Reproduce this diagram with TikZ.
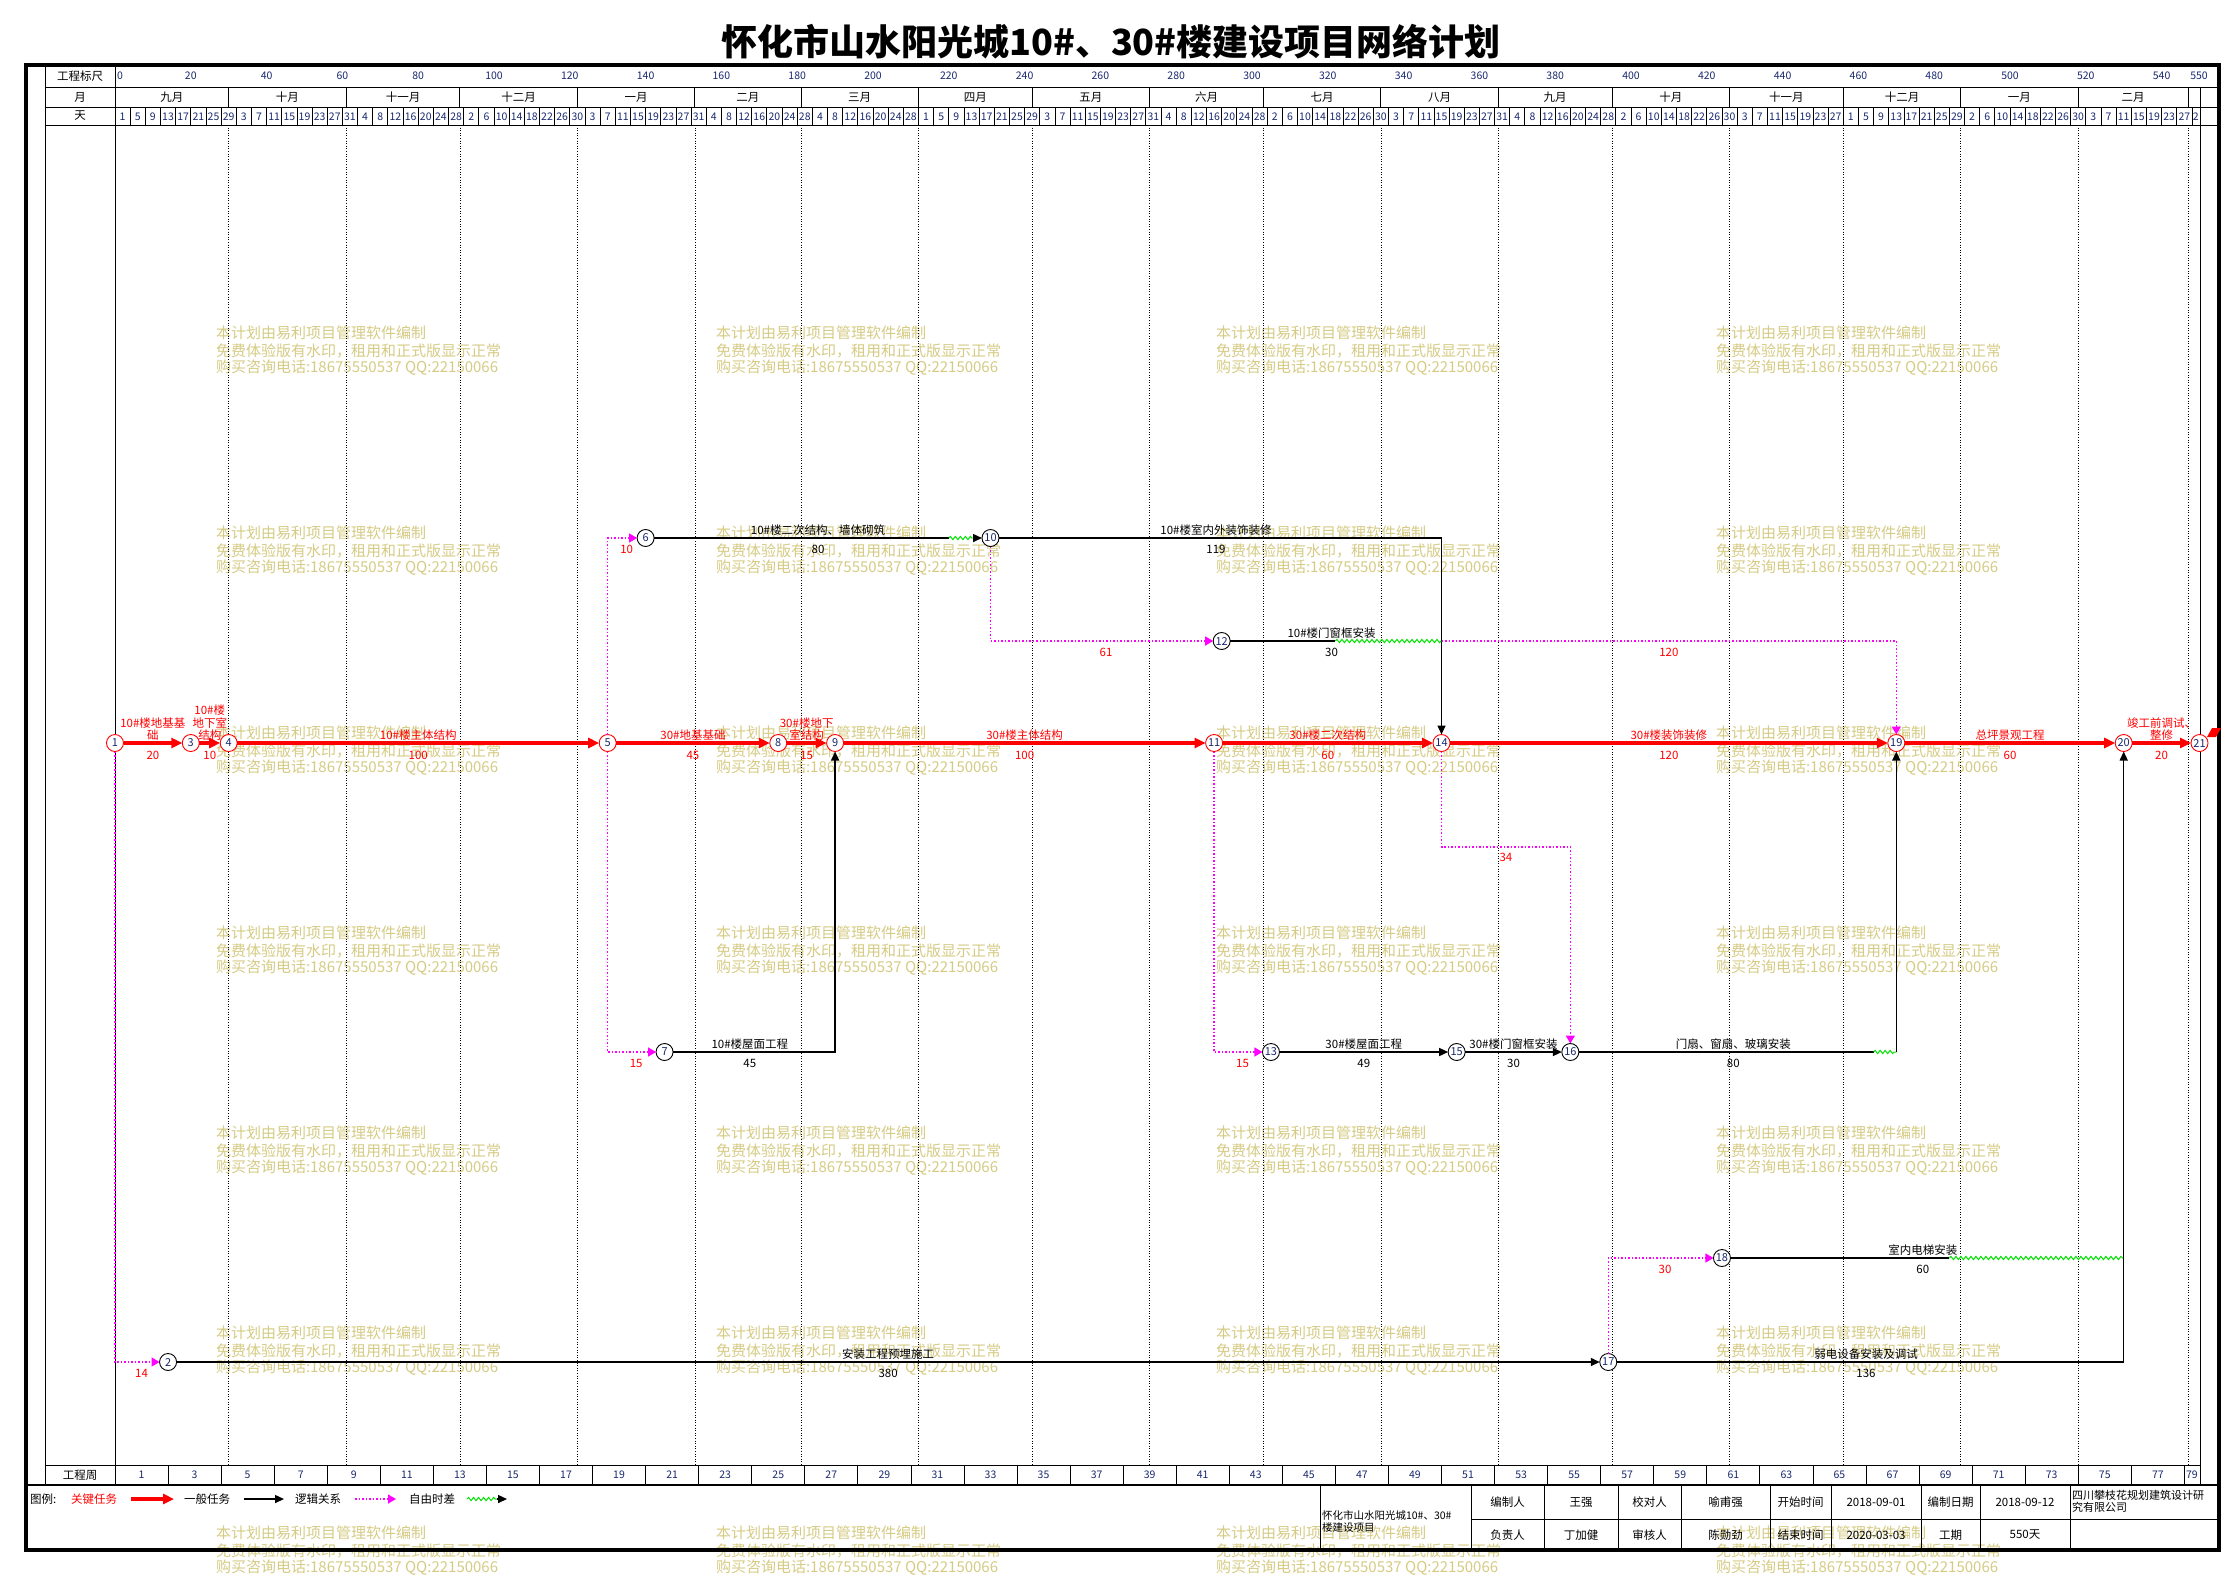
\documentclass[tikz,border=0pt]{standalone}
\usepackage{fontspec}
\usepackage{graphicx}
\setmainfont{Noto Sans CJK SC}
\usetikzlibrary{arrows.meta,decorations.pathmorphing,calc}
\definecolor{navy}{RGB}{25,40,110}
\definecolor{wmc}{RGB}{214,203,132}
\definecolor{mag}{RGB}{255,0,255}
\definecolor{grn}{RGB}{0,225,0}
\definecolor{crit}{RGB}{255,0,0}
\newcommand{\X}[1]{115+3.79*(#1)}
\begin{document}
\begin{tikzpicture}[x=1pt,y=-1pt,
  every node/.style={inner sep=0pt,outer sep=0pt},
  hd/.style={font=\fontsize{10.5}{12}\selectfont,text=navy},
  hdk/.style={font=\fontsize{11.5}{13}\selectfont},
  lr/.style={font=\fontsize{11.5}{12.5}\selectfont,text=crit,align=center},
  lb/.style={font=\fontsize{11.5}{12.5}\selectfont,align=center},
  wm/.style={font=\fontsize{15}{17}\selectfont,text=wmc,anchor=west},
  cn/.style={circle,draw=crit,line width=0.9pt,fill=white,minimum size=17pt,font=\fontsize{11}{12}\selectfont,text=navy},
  bn/.style={circle,draw=black,line width=0.9pt,fill=white,minimum size=17pt,font=\fontsize{11}{12}\selectfont,text=navy},
  critA/.style={draw=crit,line width=3.3pt,-{Triangle[length=11pt,width=10pt]}},
  blkA/.style={draw=black,line width=1.5pt,-{Triangle[length=9pt,width=8pt]}},
  blkL/.style={draw=black,line width=1.5pt},
  dotA/.style={draw=mag,line width=1.3pt,dash pattern=on 1.5pt off 2pt,-{Triangle[length=8pt,width=9pt]}},
  wave/.style={draw=grn,line width=1pt,decorate,decoration={snake,amplitude=1.6pt,segment length=5pt}},
  grid/.style={draw=black,line width=0.7pt,dash pattern=on 1pt off 1.6pt},
  thinl/.style={draw=black,line width=0.8pt}
]
\useasboundingbox (0,0) rectangle (2224,1577);
\fill[white] (0,0) rectangle (2224,1577);

% ---------- watermarks ----------
\foreach \cx in {216,716,1216,1716} {
  \foreach \cy in {333,533,733,933,1133,1333,1533} {
    \node[wm] (wma-\cx-\cy) at (\cx,\cy) {本计划由易利项目管理软件编制};
    \node[wm] (wmb-\cx-\cy) at (\cx,{\cy+17.5}) {免费体验版有水印，租用和正式版显示正常};
    \node[wm] (wmc-\cx-\cy) at (\cx,{\cy+35}) {购买咨询电话:18675550537 QQ:22150066};
  }
}

% ---------- title ----------
\node[font=\fontsize{36}{40}\selectfont\bfseries] (title) at (1111,42) {怀化市山水阳光城10\#、30\#楼建设项目网络计划};

% ---------- frame and header ----------
\draw[thinl] (45,65) -- (45,1485);
\draw[thinl] (115,65) -- (115,1485);
\draw[thinl] (2200,87) -- (2200,1485);
\draw[thinl] (45,87) -- (2219,87);
\draw[thinl] (45,107) -- (2219,107);
\draw[thinl] (45,125) -- (2219,125);
\draw[thinl] (45,1465) -- (2200,1465);
\node[hdk] (hscale) at (80,76) {工程标尺};
\node[hdk] (hmonth) at (80,97) {月};
\node[hdk] (hday) at (80,116) {天};
\node[hdk] (hweek) at (80,1475) {工程周};

% scale numbers
\node[hd,anchor=west] (s0) at (117,76) {0};
\foreach \v in {20,40,...,540} { \node[hd] (s\v) at ({\X{\v}},76) {\v}; }
\node[hd] (s550) at (2199,76) {550};

% months
\foreach \a/\b/\m in {0/30/九月,30/61/十月,61/91/十一月,91/122/十二月,122/153/一月,153/181/二月,181/212/三月,212/242/四月,242/273/五月,273/303/六月,303/334/七月,334/365/八月,365/395/九月,395/426/十月,426/456/十一月,456/487/十二月,487/518/一月,518/547/二月} {
  \node[hdk] (m\a) at ({\X{(\a+\b)/2}},97) {\m};
  \draw[thinl] ({\X{\b}},87) -- ({\X{\b}},107);
  \draw[grid] ({\X{\b}},125) -- ({\X{\b}},1465);
}

% days
\foreach \d [count=\k from 0] in {1,5,9,13,17,21,25,29,3,7,11,15,19,23,27,31,4,8,12,16,20,24,28,2,6,10,14,18,22,26,30,3,7,11,15,19,23,27,31,4,8,12,16,20,24,28,4,8,12,16,20,24,28,1,5,9,13,17,21,25,29,3,7,11,15,19,23,27,31,4,8,12,16,20,24,28,2,6,10,14,18,22,26,30,3,7,11,15,19,23,27,31,4,8,12,16,20,24,28,2,6,10,14,18,22,26,30,3,7,11,15,19,23,27,1,5,9,13,17,21,25,29,2,6,10,14,18,22,26,30,3,7,11,15,19,23,27,2} {
  \node[hd] (d\k) at ({\X{min(4*\k+2,549)}},116.5) {\d};
}
\foreach \k in {1,...,137} { \draw[thinl] ({\X{4*\k}},107) -- ({\X{4*\k}},125); }

% weeks
\foreach \k in {0,...,39} {
  \pgfmathtruncatemacro{\w}{2*\k+1}
  \node[hd] (w\k) at ({\X{min(14*\k+7,548)}},1475) {\w};
}
\foreach \k in {1,...,39} { \draw[thinl] ({\X{14*\k}},1465) -- ({\X{14*\k}},1485); }

% outer frame
\draw[black,line width=2.6pt] (26,1485) -- (2219,1485);
\draw[black,line width=4pt] (26,65) rectangle (2219,1550);

% ---------- nodes ----------
\node[cn] (n1) at ({\X{0}},743) {1};
\node[cn] (n3) at ({\X{20}},743) {3};
\node[cn] (n4) at ({\X{30}},743) {4};
\node[cn] (n5) at ({\X{130}},743) {5};
\node[cn] (n8) at ({\X{175}},743) {8};
\node[cn] (n9) at ({\X{190}},743) {9};
\node[cn] (n11) at ({\X{290}},743) {11};
\node[cn] (n14) at ({\X{350}},743) {14};
\node[cn] (n19) at ({\X{470}},743) {19};
\node[cn] (n20) at ({\X{530}},743) {20};
\node[cn] (n21) at ({\X{550}},743) {21};
\node[bn] (n6) at ({\X{140}},538) {6};
\node[bn] (n10) at ({\X{231}},538) {10};
\node[bn] (n12) at ({\X{292}},641) {12};
\node[bn] (n7) at ({\X{145}},1052) {7};
\node[bn] (n13) at ({\X{305}},1052) {13};
\node[bn] (n15) at ({\X{354}},1052) {15};
\node[bn] (n16) at ({\X{384}},1052) {16};
\node[bn] (n18) at ({\X{424}},1258) {18};
\node[bn] (n2) at ({\X{14}},1362) {2};
\node[bn] (n17) at ({\X{394}},1362) {17};

% bend / free-end coordinates
\coordinate (e6) at ({\X{220}},538);
\coordinate (a10) at ({\X{231}-18},538);
\coordinate (e12) at ({\X{322}},641);
\coordinate (w12) at ({\X{350}},641);
\coordinate (b14) at ({\X{350}},847);
\coordinate (e16) at ({\X{464}},1052);
\coordinate (w16) at ({\X{470}},1052);
\coordinate (e18) at ({\X{484}},1258);
\coordinate (w18) at ({\X{530}},1258);

% ---------- connectors ----------
\draw[critA] (n1) -- (n3);
\draw[critA] (n3) -- (n4);
\draw[critA] (n4) -- (n5);
\draw[critA] (n5) -- (n8);
\draw[critA] (n8) -- (n9);
\draw[critA] (n9) -- (n11);
\draw[critA] (n11) -- (n14);
\draw[critA] (n14) -- (n19);
\draw[critA] (n19) -- (n20);
\draw[critA] (n20) -- (n21);

\draw[blkL] (n6) -- (e6);
\draw[wave] (e6) -- (a10);
\draw[blkA] (a10) -- (n10);
\draw[blkA] (n10) -| (n14);
\draw[dotA] (n10) |- (n12);
\draw[blkL] (n12) -- (e12);
\draw[wave] (e12) -- (w12);
\draw[dotA] (w12) -| (n19);
\draw[dotA] (n14) -- (b14) -| (n16);
\draw[dotA] (n5) |- (n6);
\draw[dotA] (n5) |- (n7);
\draw[blkA] (n7) -| (n9);
\draw[dotA] (n11) |- (n13);
\draw[blkA] (n13) -- (n15);
\draw[blkA] (n15) -- (n16);
\draw[blkL] (n16) -- (e16);
\draw[wave] (e16) -- (w16);
\draw[blkA] (w16) -- (n19);
\draw[dotA] (n1) |- (n2);
\draw[blkA] (n2) -- (n17);
\draw[dotA] (n17) |- (n18);
\draw[blkL] (n18) -- (e18);
\draw[wave] (e18) -- (w18);
\draw[blkA] (n17) -| (n20);

% flag at end node
\fill[crit] (2207,737) -- (2212,728) -- (2221,728) -- (2216,737) -- cycle;

% ---------- critical labels ----------
\node[lr] (t13) at ({\X{10}},729) {10\#楼地基基\\础};
\node[lr] (t34) at ({\X{25}},723) {10\#楼\\地下室\\结构};
\node[lr] (t45) at ({\X{80}},735) {10\#楼主体结构};
\node[lr] (t58) at ({\X{152.5}},735) {30\#地基基础};
\node[lr] (t89) at ({\X{182.5}},729) {30\#楼地下\\室结构};
\node[lr] (t911) at ({\X{240}},735) {30\#楼主体结构};
\node[lr] (t1114) at ({\X{320}},735) {30\#楼二次结构};
\node[lr] (t1419) at ({\X{410}},735) {30\#楼装饰装修};
\node[lr] (t1920) at ({\X{500}},735) {总坪景观工程};
\node[lr] (t2021) at ({\X{540}},729) {竣工前调试、\\整修};
\node[lr] (u13) at ({\X{10}},755) {20};
\node[lr] (u34) at ({\X{25}},755) {10};
\node[lr] (u45) at ({\X{80}},755) {100};
\node[lr] (u58) at ({\X{152.5}},755) {45};
\node[lr] (u89) at ({\X{182.5}},755) {15};
\node[lr] (u911) at ({\X{240}},755) {100};
\node[lr] (u1114) at ({\X{320}},755) {60};
\node[lr] (u1419) at ({\X{410}},755) {120};
\node[lr] (u1920) at ({\X{500}},755) {60};
\node[lr] (u2021) at ({\X{540}},755) {20};

% ---------- general task labels ----------
\node[lb] (t610) at ({\X{185.5}},530) {10\#楼二次结构、墙体砌筑};
\node[lb] (u610) at ({\X{185.5}},549) {80};
\node[lb] (t1014) at ({\X{290.5}},530) {10\#楼室内外装饰装修};
\node[lb] (u1014) at ({\X{290.5}},549) {119};
\node[lb] (t12) at ({\X{321}},633) {10\#楼门窗框安装};
\node[lb] (u12) at ({\X{321}},652) {30};
\node[lb] (t79) at ({\X{167.5}},1044) {10\#楼屋面工程};
\node[lb] (u79) at ({\X{167.5}},1063) {45};
\node[lb] (t1315) at ({\X{329.5}},1044) {30\#楼屋面工程};
\node[lb] (u1315) at ({\X{329.5}},1063) {49};
\node[lb] (t1516) at ({\X{369}},1044) {30\#楼门窗框安装};
\node[lb] (u1516) at ({\X{369}},1063) {30};
\node[lb] (t1619) at ({\X{427}},1044) {门扇、窗扇、玻璃安装};
\node[lb] (u1619) at ({\X{427}},1063) {80};
\node[lb] (t217) at ({\X{204}},1354) {安装工程预埋施工};
\node[lb] (u217) at ({\X{204}},1373) {380};
\node[lb] (t1720) at ({\X{462}},1354) {弱电设备安装及调试};
\node[lb] (u1720) at ({\X{462}},1373) {136};
\node[lb] (t18) at ({\X{477}},1250) {室内电梯安装};
\node[lb] (u18) at ({\X{477}},1269) {60};

% ---------- free time labels ----------
\node[lr] (f56) at ({\X{135}},549) {10};
\node[lr] (f1012) at ({\X{261.5}},652) {61};
\node[lr] (f1219) at ({\X{410}},652) {120};
\node[lr] (f57) at ({\X{137.5}},1063) {15};
\node[lr] (f1113) at ({\X{297.5}},1063) {15};
\node[lr] (f1416) at ({\X{367}},857) {34};
\node[lr] (f12) at ({\X{7}},1373) {14};
\node[lr] (f1718) at ({\X{409}},1269) {30};

% ---------- legend ----------
\node[hdk,anchor=west] (lg0) at (30,1499) {图例:};
\node[hdk,anchor=west,text=crit] (lg1) at (71,1499) {关键任务};
\coordinate (la1) at (131,1499); \coordinate (lb1) at (174,1499);
\draw[critA] (la1) -- (lb1);
\node[hdk,anchor=west] (lg2) at (184,1499) {一般任务};
\coordinate (la2) at (244,1499); \coordinate (lb2) at (284,1499);
\draw[blkA] (la2) -- (lb2);
\node[hdk,anchor=west] (lg3) at (295,1499) {逻辑关系};
\coordinate (la3) at (355,1499); \coordinate (lb3) at (396,1499);
\draw[dotA] (la3) -- (lb3);
\node[hdk,anchor=west] (lg4) at (409,1499) {自由时差};
\coordinate (la4) at (467,1499); \coordinate (lm4) at (497,1499); \coordinate (lb4) at (507,1499);
\draw[wave] (la4) -- (lm4);
\draw[blkA] (lm4) -- (lb4);

% ---------- title block ----------
\foreach \xx in {1320,1471,1544,1618,1681,1770,1831,1921,1980,2070} { \draw[thinl] (\xx,1485) -- (\xx,1550); }
\draw[thinl] (1471,1519) -- (2219,1519);
\node[font=\fontsize{10.5}{12}\selectfont,align=left,anchor=west] (tbname) at (1322,1521) {怀化市山水阳光城10\#、30\#\\楼建设项目};
\foreach \cxx/\txa/\txb in {1507.5/编制人/负责人,1581/王强/丁加健,1649.5/校对人/审核人,1725.5/喻甫强/陈勋劲,1800.5/开始时间/结束时间,1876/2018-09-01/2020-03-03,1950.5/编制日期/工期,2025/2018-09-12/550天} {
  \node[hdk] (tba\cxx) at (\cxx,1502) {\txa};
  \node[hdk] (tbb\cxx) at (\cxx,1535) {\txb};
}
\node[font=\fontsize{11}{12.5}\selectfont,align=left,anchor=north west] (tbco) at (2072,1490) {四川攀枝花规划建筑设计研\\究有限公司};
\end{tikzpicture}
\end{document}
